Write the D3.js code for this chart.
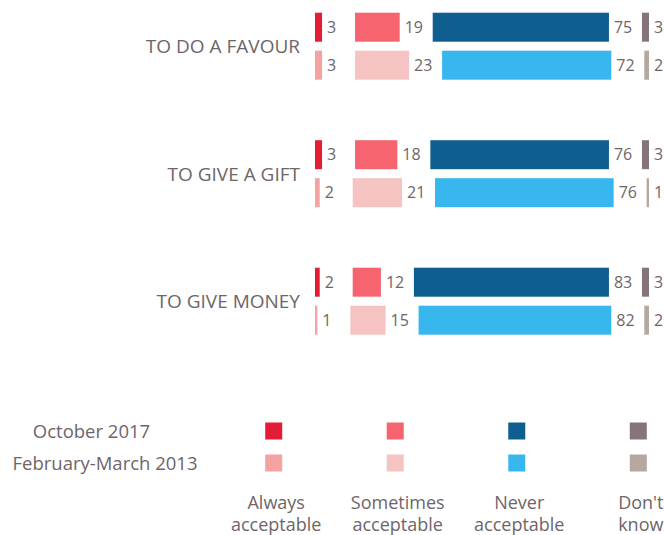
<!doctype html>
<html lang="en">
  <head>
    <meta charset="utf-8">
    <title>Acceptable to give</title>
    <style>
      body { margin: 0; background: #fff; }
      text { font-family: "Open Sans", sans-serif; fill: #6e6569; }
    </style>
  </head>
  <body>
    <div id="main-chart"></div>

    <script src="https://d3js.org/d3.v7.min.js"></script>
    <script>
      // Data
      var categories = ["TO DO A FAVOUR", "TO GIVE A GIFT", "TO GIVE MONEY"];
      var years = ["October 2017", "February-March 2013"];
      var answers = ["Always acceptable", "Sometimes acceptable", "Never acceptable", "Don't know"];
      var answerLines = [["Always", "acceptable"], ["Sometimes", "acceptable"], ["Never", "acceptable"], ["Don't", "know"]];

      var oct2017 = [
        [3, 19, 75, 3],
        [3, 18, 76, 3],
        [2, 12, 83, 3]
      ];
      var feb2013 = [
        [3, 23, 72, 2],
        [2, 21, 76, 1],
        [1, 15, 82, 2]
      ];

      var colors2017 = ["#e31d35", "#f5646f", "#0e5f8f", "#857479"];
      var colors2013 = ["#f4a2a2", "#f5c4c2", "#37b7ee", "#b6a79f"];

      // Set params
      var width = 664, height = 535;
      var left = 315, gap = 33;

      var svg = d3.select("#main-chart")
        .append("svg")
        .attr("width", width)
        .attr("height", height);

      // Scales
      var x = d3.scaleLinear().domain([0, 100]).range([0, 235]);

      var y = d3.scaleBand()
        .domain(categories)
        .range([12.7, 12.7 + 3 * 127.5]);

      var yInner = d3.scaleBand()
        .domain(years)
        .range([0, 67])
        .paddingInner(9 / 38);

      // Build rows of segments
      var rows = [];
      categories.forEach(function(cat, ci) {
        [oct2017[ci], feb2013[ci]].forEach(function(vals, yi) {
          var pos = left;
          vals.forEach(function(v, i) {
            rows.push({
              cat: cat, year: years[yi], value: v,
              x0: pos, w: x(v),
              color: yi == 0 ? colors2017[i] : colors2013[i]
            });
            pos += x(v) + gap;
          });
        });
      });

      // Bars
      svg.selectAll("rect.bar")
        .data(rows)
        .enter()
        .append("rect")
        .attr("class", "bar")
        .attr("x", function(d) { return d.x0; })
        .attr("y", function(d) { return y(d.cat) + yInner(d.year); })
        .attr("width", function(d) { return d.w; })
        .attr("height", yInner.bandwidth())
        .attr("fill", function(d) { return d.color; });

      // Value labels
      svg.selectAll("text.val")
        .data(rows)
        .enter()
        .append("text")
        .attr("class", "val")
        .attr("x", function(d) { return d.x0 + d.w + 5; })
        .attr("y", function(d) { return y(d.cat) + yInner(d.year) + yInner.bandwidth() / 2; })
        .attr("dy", "0.36em")
        .attr("font-size", "16px")
        .text(function(d) { return d.value; });

      // Category labels
      svg.selectAll("text.cat")
        .data(categories)
        .enter()
        .append("text")
        .attr("class", "cat")
        .attr("x", 300)
        .attr("y", function(d) { return y(d) + 33.5; })
        .attr("dy", "0.36em")
        .attr("text-anchor", "end")
        .attr("font-size", "19px")
        .text(function(d) { return d; });

      // Legend
      var legendX = d3.scalePoint().domain(answers).range([273.7, 638.3]);
      var legendY = d3.scalePoint().domain(years).range([431, 463]);

      years.forEach(function(yr, yi) {
        var cols = yi == 0 ? colors2017 : colors2013;
        svg.selectAll("rect.leg" + yi)
          .data(answers)
          .enter()
          .append("rect")
          .attr("x", function(d) { return legendX(d) - 8.5; })
          .attr("y", legendY(yr) - 8.5)
          .attr("width", 17)
          .attr("height", 17)
          .attr("fill", function(d, i) { return cols[i]; });
      });

      svg.append("text")
        .attr("x", 91.5)
        .attr("y", legendY(years[0]))
        .attr("dy", "0.36em")
        .attr("text-anchor", "middle")
        .attr("font-size", "18.5px")
        .text(years[0]);

      svg.append("text")
        .attr("x", 105)
        .attr("y", legendY(years[1]))
        .attr("dy", "0.36em")
        .attr("text-anchor", "middle")
        .attr("font-size", "18.5px")
        .text(years[1]);

      svg.selectAll("text.leglab")
        .data(answers)
        .enter()
        .append("text")
        .attr("class", "leglab")
        .attr("text-anchor", "middle")
        .attr("font-size", "18px")
        .each(function(d, i) {
          d3.select(this).selectAll("tspan")
            .data(answerLines[i])
            .enter()
            .append("tspan")
            .attr("x", legendX(d) + 2.5)
            .attr("y", function(t, j) { return 503 + j * 22; })
            .attr("dy", "0.36em")
            .text(function(t) { return t; });
        });
    </script>
  </body>
</html>
